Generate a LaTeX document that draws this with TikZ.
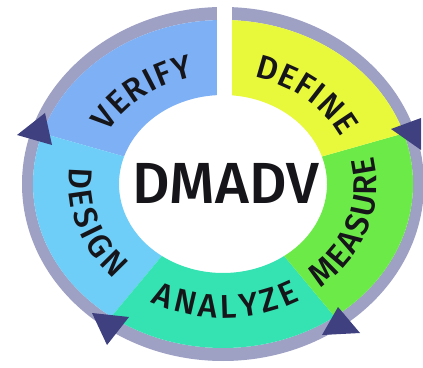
\documentclass[tikz,border=0pt]{standalone}
\usepackage{fontspec}
\setmainfont{Fira Sans}
\newfontfamily\diagfont{Fira Sans}[UprightFont = * Medium]
\usepackage{tikz}
\usetikzlibrary{decorations.text}

\definecolor{verifyblue}{RGB}{125,176,245}
\definecolor{defineyellow}{RGB}{232,248,58}
\definecolor{measuregreen}{RGB}{108,234,72}
\definecolor{analyzeteal}{RGB}{52,226,178}
\definecolor{designblue}{RGB}{110,206,248}
\definecolor{ringgrey}{RGB}{158,160,196}
\definecolor{arrownavy}{RGB}{62,64,128}
\definecolor{labelblack}{RGB}{22,22,26}

\newcommand{\ringfont}{\diagfont\fontsize{33}{33}\selectfont\color{labelblack}}

\tikzset{
    arrowtri/.style = {fill = arrownavy},
    ring text/.style = {decorate, decoration = {text along path, text align = {fit to path}, text = {|\ringfont|#1}}}
}

\begin{document}
\begin{tikzpicture}[x = 1pt, y = 1pt]
        \fill[white] (0, 0) rectangle (423, 367);
        \useasboundingbox (0, 0) rectangle (423, 367);

        \begin{scope}[shift = {(223, 183)}]
        \fill[ringgrey, even odd rule] (0, 0) ellipse [x radius = 201, y radius = 177] (0, 0) ellipse [x radius = 190, y radius = 164];

        \fill[verifyblue] (90:190 and 164) arc [start angle = 90, end angle = 162, x radius = 190, y radius = 164] -- (162:104 and 89) arc [start angle = 162, end angle = 90, x radius = 104, y radius = 89] -- cycle;
        \fill[designblue] (162:190 and 164) arc [start angle = 162, end angle = 234, x radius = 190, y radius = 164] -- (234:104 and 89) arc [start angle = 234, end angle = 162, x radius = 104, y radius = 89] -- cycle;
        \fill[analyzeteal] (234:190 and 164) arc [start angle = 234, end angle = 306, x radius = 190, y radius = 164] -- (306:104 and 89) arc [start angle = 306, end angle = 234, x radius = 104, y radius = 89] -- cycle;
        \fill[measuregreen] (306:190 and 164) arc [start angle = 306, end angle = 378, x radius = 190, y radius = 164] -- (18:104 and 89) arc [start angle = 378, end angle = 306, x radius = 104, y radius = 89] -- cycle;
        \fill[defineyellow] (18:190 and 164) arc [start angle = 18, end angle = 90, x radius = 190, y radius = 164] -- (90:104 and 89) arc [start angle = 90, end angle = 18, x radius = 104, y radius = 89] -- cycle;

        \fill[white] (-6, 70) rectangle (9, 190);

        \path[ring text = VERIFY] (152:130 and 110) arc [start angle = 152, end angle = 103, x radius = 130, y radius = 110];
        \path[ring text = DEFINE] (76:130 and 110) arc [start angle = 76, end angle = 25, x radius = 130, y radius = 110];
        \path[ring text = MEASURE] (309:154 and 134) arc [start angle = 309, end angle = 372, x radius = 154, y radius = 134];
        \path[ring text = ANALYZE] (242:154 and 134) arc [start angle = 242, end angle = 300, x radius = 154, y radius = 134];
        \path[ring text = DESIGN] (173:154 and 134) arc [start angle = 173, end angle = 225, x radius = 154, y radius = 134];
        \end{scope}

        \fill[arrowtri] (17, 232) -- (45, 254) -- (52, 222) -- cycle;
        \fill[arrowtri] (391, 238) -- (421, 249) -- (421, 217) -- cycle;
        \fill[arrowtri] (338, 60) -- (322, 32) -- (360, 34) -- cycle;
        \fill[arrowtri] (92, 54) -- (129, 50) -- (107, 22) -- cycle;

        \node[font = {\diagfont\fontsize{58}{58}\selectfont}, labelblack] (dmadv) at (226, 184) {DMADV};
\end{tikzpicture}
\end{document}
